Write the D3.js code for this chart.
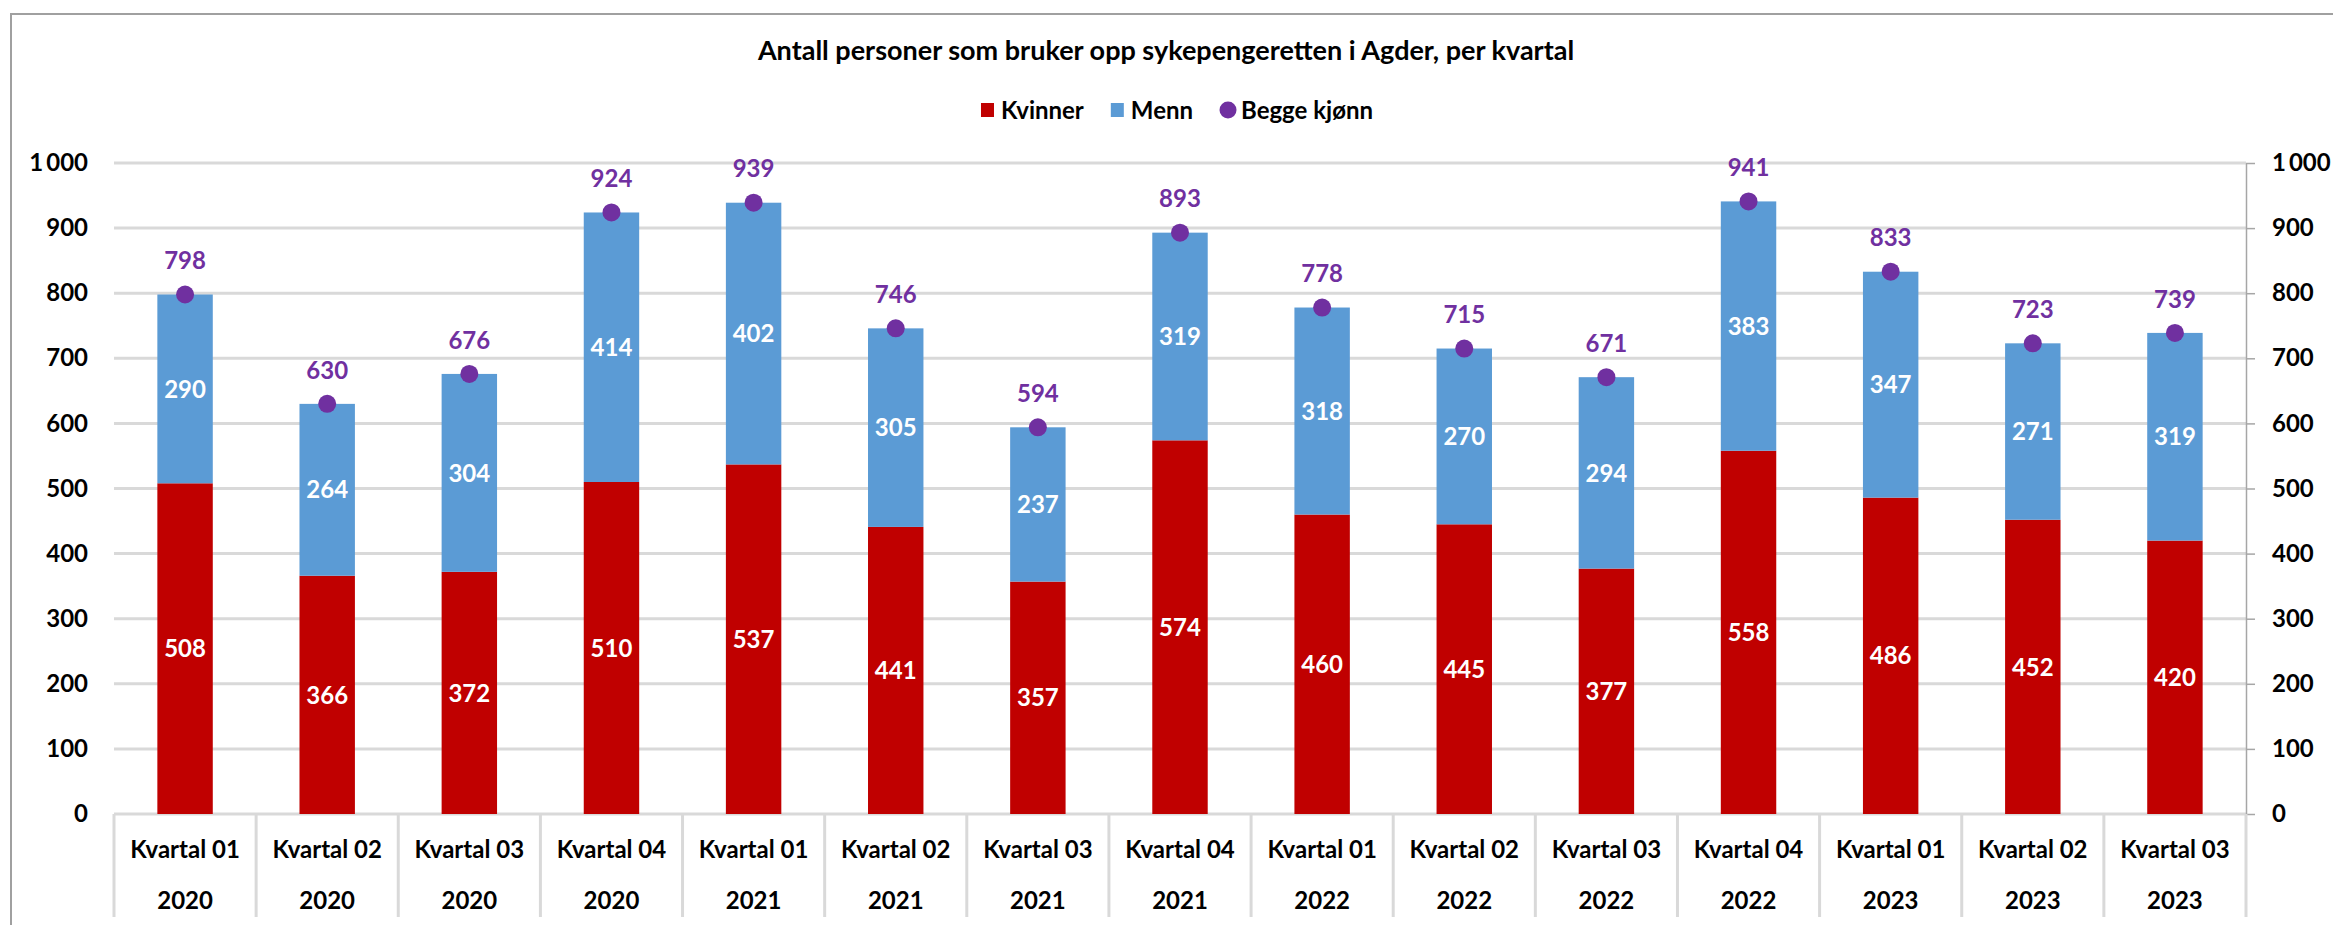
<!DOCTYPE html>
<html>
<head>
<meta charset="utf-8">
<script src="https://cdn.jsdelivr.net/npm/d3@7"></script>
<style>
  body { margin: 0; background: #fff; }
  text { font-family: Lato, "Open Sans", sans-serif; font-weight: bold; }
</style>
</head>
<body>
<div class="chart"></div>
<script>
// data
var quarters = ["Kvartal 01", "Kvartal 02", "Kvartal 03", "Kvartal 04",
  "Kvartal 01", "Kvartal 02", "Kvartal 03", "Kvartal 04",
  "Kvartal 01", "Kvartal 02", "Kvartal 03", "Kvartal 04",
  "Kvartal 01", "Kvartal 02", "Kvartal 03"];
var years = ["2020", "2020", "2020", "2020", "2021", "2021", "2021", "2021",
  "2022", "2022", "2022", "2022", "2023", "2023", "2023"];
var kvinner = [508, 366, 372, 510, 537, 441, 357, 574, 460, 445, 377, 558, 486, 452, 420];
var menn = [290, 264, 304, 414, 402, 305, 237, 319, 318, 270, 294, 383, 347, 271, 319];
var begge = [798, 630, 676, 924, 939, 746, 594, 893, 778, 715, 671, 941, 833, 723, 739];
var yTicks = [0, 100, 200, 300, 400, 500, 600, 700, 800, 900, 1000];
var seriesNames = ["Kvinner", "Menn", "Begge kjønn"];

var svgWidth = 2333;
var svgHeight = 925;

var margin = {
  top: 163,
  right: 87,
  bottom: 111,
  left: 114
};

var width = svgWidth - margin.left - margin.right;
var height = svgHeight - margin.top - margin.bottom;

var colors = { Kvinner: "#C00000", Menn: "#5B9BD5", "Begge kjønn": "#7030A0" };

var svg = d3.select(".chart")
  .append("svg")
  .attr("width", svgWidth)
  .attr("height", svgHeight);

svg.append("rect")
  .attr("width", svgWidth)
  .attr("height", svgHeight)
  .attr("fill", "#fff");

// outer chart border (right and bottom fall outside the picture)
svg.append("rect")
  .attr("x", 11)
  .attr("y", 14)
  .attr("width", svgWidth + 20)
  .attr("height", svgHeight + 20)
  .attr("fill", "none")
  .attr("stroke", "#a0a0a0")
  .attr("stroke-width", 2);

var chartGroup = svg.append("g")
  .attr("transform", `translate(${margin.left}, ${margin.top})`);

var idx = d3.range(quarters.length);

var x = d3.scaleBand()
  .domain(idx)
  .range([0, width])
  .paddingInner(0.61)
  .paddingOuter(0.305);

var y = d3.scaleLinear()
  .domain([0, 1000])
  .range([height, 0]);

var fmt = d3.formatLocale({ decimal: ",", thousands: "\u2009", grouping: [3], currency: ["", ""] }).format(",d");

// gridlines
chartGroup.append("g")
  .selectAll("line")
  .data(yTicks)
  .enter()
  .append("line")
  .attr("x1", 0)
  .attr("x2", width)
  .attr("y1", d => y(d))
  .attr("y2", d => y(d))
  .attr("stroke", "#d9d9d9")
  .attr("stroke-width", 3);

// left axis (labels only)
var leftAxis = chartGroup.append("g")
  .call(d3.axisLeft(y).tickValues(yTicks).tickSize(0).tickPadding(26).tickFormat(fmt));
leftAxis.select(".domain").remove();

// right axis
var rightAxis = chartGroup.append("g")
  .attr("transform", `translate(${width}, 0)`)
  .call(d3.axisRight(y).tickValues(yTicks).tickSize(9).tickSizeOuter(0).tickPadding(17).tickFormat(fmt));
rightAxis.selectAll(".domain, line").attr("stroke", "#a6a6a6").attr("stroke-width", 1.5);

chartGroup.selectAll(".tick text")
  .attr("font-size", 24)
  .attr("fill", "#000");

// category separators
var step = x.step();
chartGroup.append("g")
  .selectAll("line")
  .data(d3.range(quarters.length + 1))
  .enter()
  .append("line")
  .attr("x1", d => d * step)
  .attr("x2", d => d * step)
  .attr("y1", height)
  .attr("y2", height + 103)
  .attr("stroke", "#d9d9d9")
  .attr("stroke-width", 3);

// quarter labels and year labels
var quarterAxis = chartGroup.append("g")
  .attr("transform", `translate(0, ${height})`)
  .call(d3.axisBottom(x).tickSize(0).tickPadding(27).tickFormat(i => quarters[i]));
var yearAxis = chartGroup.append("g")
  .attr("transform", `translate(0, ${height})`)
  .call(d3.axisBottom(x).tickSize(0).tickPadding(78).tickFormat(i => years[i]));
[quarterAxis, yearAxis].forEach(function(ax) {
  ax.select(".domain").remove();
  ax.selectAll("text").attr("font-size", 24).attr("fill", "#000");
});

// stacked bars
var rows = idx.map(i => ({ i: i, Kvinner: kvinner[i], Menn: menn[i] }));
var stacked = d3.stack().keys(["Kvinner", "Menn"])(rows);

stacked.forEach(function(layer) {
  var g = chartGroup.append("g");
  g.selectAll("rect")
    .data(layer)
    .enter()
    .append("rect")
    .attr("x", d => x(d.data.i))
    .attr("y", d => y(d[1]))
    .attr("width", x.bandwidth())
    .attr("height", d => y(d[0]) - y(d[1]))
    .attr("fill", colors[layer.key]);

  g.selectAll("text")
    .data(layer)
    .enter()
    .append("text")
    .attr("x", d => x(d.data.i) + x.bandwidth() / 2)
    .attr("y", d => y((d[0] + d[1]) / 2))
    .attr("dy", "0.36em")
    .attr("text-anchor", "middle")
    .attr("font-size", 24)
    .attr("fill", "#fff")
    .text(d => d.data[layer.key]);
});

// total markers and labels
chartGroup.append("g")
  .selectAll("circle")
  .data(idx)
  .enter()
  .append("circle")
  .attr("cx", i => x(i) + x.bandwidth() / 2)
  .attr("cy", i => y(begge[i]))
  .attr("r", 9)
  .attr("fill", colors["Begge kjønn"]);

chartGroup.append("g")
  .selectAll("text")
  .data(idx)
  .enter()
  .append("text")
  .attr("x", i => x(i) + x.bandwidth() / 2)
  .attr("y", i => y(begge[i]) - 34)
  .attr("dy", "0.36em")
  .attr("text-anchor", "middle")
  .attr("font-size", 24)
  .attr("fill", colors["Begge kjønn"])
  .text(i => begge[i]);

// title
svg.append("text")
  .attr("x", 1166)
  .attr("y", 50)
  .attr("dy", "0.36em")
  .attr("text-anchor", "middle")
  .attr("font-size", 27)
  .attr("fill", "#000")
  .text("Antall personer som bruker opp sykepengeretten i Agder, per kvartal");

// legend
var legend = svg.append("g");
var lx = 0;
seriesNames.forEach(function(name, k) {
  var item = legend.append("g").attr("transform", `translate(${lx}, 0)`);
  if (k < 2) {
    item.append("rect")
      .attr("x", 0)
      .attr("y", -7)
      .attr("width", 13)
      .attr("height", 14)
      .attr("fill", colors[name]);
  } else {
    item.append("circle")
      .attr("cx", 8)
      .attr("cy", 0)
      .attr("r", 8.5)
      .attr("fill", colors[name]);
  }
  var t = item.append("text")
    .attr("x", k < 2 ? 20 : 21)
    .attr("dy", "0.36em")
    .attr("font-size", 24)
    .attr("fill", "#000")
    .text(name);
  lx += (k < 2 ? 20 : 21) + t.node().getComputedTextLength() + 27;
});
var legendWidth = lx - 27;
legend.attr("transform", `translate(${1177 - legendWidth / 2}, 110)`);
</script>
</body>
</html>
